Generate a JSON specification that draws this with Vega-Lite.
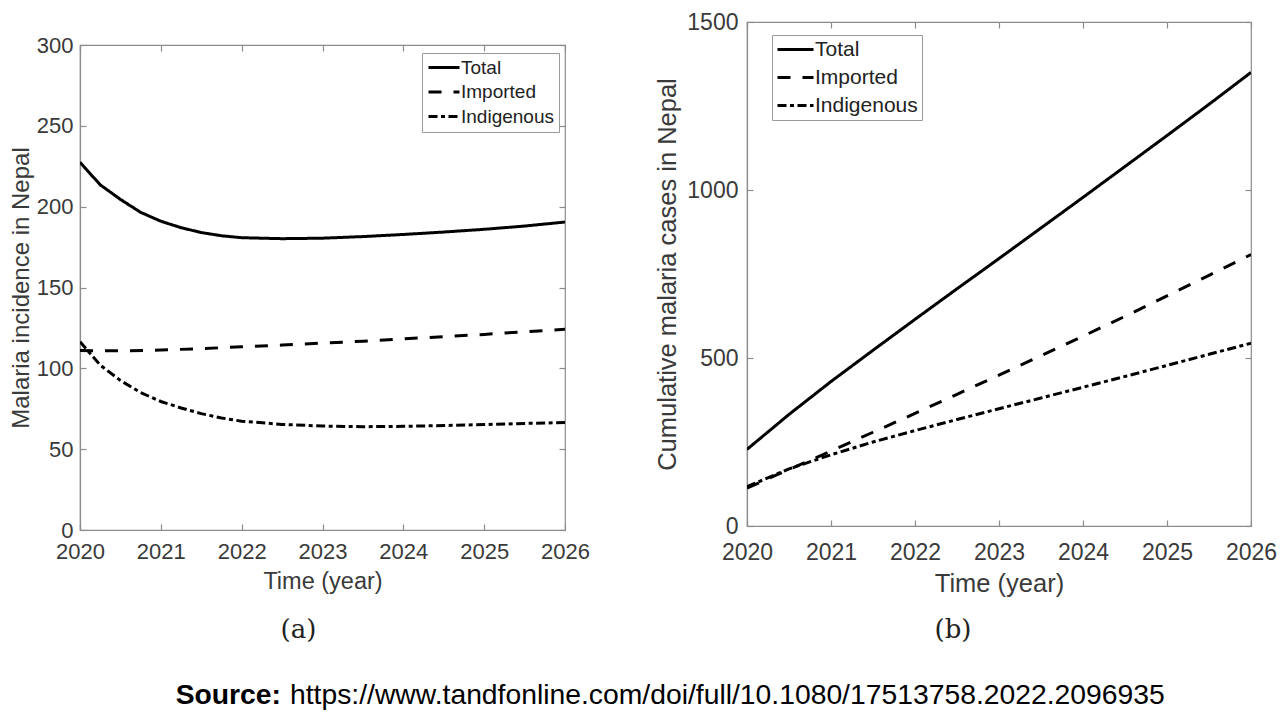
{
  "$schema": "https://vega.github.io/schema/vega-lite/v6.json",
  "background": "white",
  "padding": {"left": 8, "top": 10, "right": 0, "bottom": 0},
  "autosize": {"type": "pad"},
  "datasets": {
    "incidence": [
      {"series": "Total", "year": 2020, "value": 227.5},
      {"series": "Total", "year": 2020.25, "value": 213.5},
      {"series": "Total", "year": 2020.5, "value": 204.5},
      {"series": "Total", "year": 2020.75, "value": 196.5},
      {"series": "Total", "year": 2021, "value": 191},
      {"series": "Total", "year": 2021.25, "value": 187},
      {"series": "Total", "year": 2021.5, "value": 184},
      {"series": "Total", "year": 2021.75, "value": 182},
      {"series": "Total", "year": 2022, "value": 180.8},
      {"series": "Total", "year": 2022.5, "value": 180.2},
      {"series": "Total", "year": 2023, "value": 180.5},
      {"series": "Total", "year": 2023.5, "value": 181.5},
      {"series": "Total", "year": 2024, "value": 182.8},
      {"series": "Total", "year": 2024.5, "value": 184.3},
      {"series": "Total", "year": 2025, "value": 186},
      {"series": "Total", "year": 2025.5, "value": 188},
      {"series": "Total", "year": 2026, "value": 190.5},
      {"series": "Imported", "year": 2020, "value": 111},
      {"series": "Imported", "year": 2020.5, "value": 110.8},
      {"series": "Imported", "year": 2021, "value": 111.3},
      {"series": "Imported", "year": 2021.5, "value": 112.2},
      {"series": "Imported", "year": 2022, "value": 113.3},
      {"series": "Imported", "year": 2022.5, "value": 114.4},
      {"series": "Imported", "year": 2023, "value": 115.6},
      {"series": "Imported", "year": 2023.5, "value": 116.8},
      {"series": "Imported", "year": 2024, "value": 118.2},
      {"series": "Imported", "year": 2024.5, "value": 119.6},
      {"series": "Imported", "year": 2025, "value": 121},
      {"series": "Imported", "year": 2025.5, "value": 122.6},
      {"series": "Imported", "year": 2026, "value": 124.2},
      {"series": "Indigenous", "year": 2020, "value": 116.5},
      {"series": "Indigenous", "year": 2020.25, "value": 102},
      {"series": "Indigenous", "year": 2020.5, "value": 92.5},
      {"series": "Indigenous", "year": 2020.75, "value": 85},
      {"series": "Indigenous", "year": 2021, "value": 79.5},
      {"series": "Indigenous", "year": 2021.25, "value": 75.5},
      {"series": "Indigenous", "year": 2021.5, "value": 72},
      {"series": "Indigenous", "year": 2021.75, "value": 69.3},
      {"series": "Indigenous", "year": 2022, "value": 67.3},
      {"series": "Indigenous", "year": 2022.5, "value": 65.3},
      {"series": "Indigenous", "year": 2023, "value": 64.3},
      {"series": "Indigenous", "year": 2023.5, "value": 63.9},
      {"series": "Indigenous", "year": 2024, "value": 64.1},
      {"series": "Indigenous", "year": 2024.5, "value": 64.6},
      {"series": "Indigenous", "year": 2025, "value": 65.2},
      {"series": "Indigenous", "year": 2025.5, "value": 65.9},
      {"series": "Indigenous", "year": 2026, "value": 66.5}
    ],
    "cumulative": [
      {"series": "Total", "year": 2020, "value": 228},
      {"series": "Total", "year": 2020.5, "value": 332},
      {"series": "Total", "year": 2021, "value": 430},
      {"series": "Total", "year": 2021.5, "value": 523},
      {"series": "Total", "year": 2022, "value": 615},
      {"series": "Total", "year": 2022.5, "value": 706},
      {"series": "Total", "year": 2023, "value": 796},
      {"series": "Total", "year": 2023.5, "value": 887},
      {"series": "Total", "year": 2024, "value": 978},
      {"series": "Total", "year": 2024.5, "value": 1070},
      {"series": "Total", "year": 2025, "value": 1162},
      {"series": "Total", "year": 2025.5, "value": 1255},
      {"series": "Total", "year": 2026, "value": 1350},
      {"series": "Imported", "year": 2020, "value": 113},
      {"series": "Imported", "year": 2020.5, "value": 168},
      {"series": "Imported", "year": 2021, "value": 223},
      {"series": "Imported", "year": 2021.5, "value": 279},
      {"series": "Imported", "year": 2022, "value": 335},
      {"series": "Imported", "year": 2022.5, "value": 392},
      {"series": "Imported", "year": 2023, "value": 449},
      {"series": "Imported", "year": 2023.5, "value": 507},
      {"series": "Imported", "year": 2024, "value": 565},
      {"series": "Imported", "year": 2024.5, "value": 624},
      {"series": "Imported", "year": 2025, "value": 685},
      {"series": "Imported", "year": 2025.5, "value": 746},
      {"series": "Imported", "year": 2026, "value": 808},
      {"series": "Indigenous", "year": 2020, "value": 117},
      {"series": "Indigenous", "year": 2020.5, "value": 170},
      {"series": "Indigenous", "year": 2021, "value": 212},
      {"series": "Indigenous", "year": 2021.5, "value": 250},
      {"series": "Indigenous", "year": 2022, "value": 284},
      {"series": "Indigenous", "year": 2022.5, "value": 317},
      {"series": "Indigenous", "year": 2023, "value": 349},
      {"series": "Indigenous", "year": 2023.5, "value": 381},
      {"series": "Indigenous", "year": 2024, "value": 413},
      {"series": "Indigenous", "year": 2024.5, "value": 445},
      {"series": "Indigenous", "year": 2025, "value": 478},
      {"series": "Indigenous", "year": 2025.5, "value": 511},
      {"series": "Indigenous", "year": 2026, "value": 544}
    ]
  },
  "vconcat": [
    {
      "hconcat": [
        {
          "vconcat": [
            {
              "width": 1,
              "height": 1,
              "view": {"stroke": null},
              "data": {"values": [{}]},
              "mark": {"type": "text"},
              "encoding": {"text": {"value": ""}}
            },
            {
              "width": 485,
              "height": 485,
              "data": {"name": "incidence"},
              "title": {"text": "(a)", "orient": "bottom", "font": "DejaVu Serif", "fontSize": 26, "fontWeight": "normal", "color": "#222222", "offset": 24, "anchor": "middle", "dx": -24},
              "layer": [
                {
                  "mark": {"type": "line", "strokeWidth": 3, "color": "black", "clip": true},
                  "encoding": {
                    "x": {"field": "year", "type": "quantitative",
                      "scale": {"domain": [2020, 2026], "nice": false, "zero": false},
                      "axis": {"orient": "bottom", "title": "Time (year)", "values": [2020, 2021, 2022, 2023, 2024, 2025, 2026], "format": "d", "labelFontSize": 22, "titleFontSize": 23.5, "tickSize": -6, "labelPadding": 17, "titlePadding": 7, "labelFlush": false, "labelOverlap": false}},
                    "y": {"field": "value", "type": "quantitative",
                      "scale": {"domain": [0, 300], "nice": false},
                      "axis": {"title": "Malaria incidence in Nepal", "values": [0, 50, 100, 150, 200, 250, 300], "format": "d", "labelFontSize": 22, "titleFontSize": 24, "tickSize": -6, "labelPadding": 13, "titlePadding": 3, "labelOverlap": false, "labelFlush": false}},
                    "strokeDash": {"field": "series", "type": "nominal",
                      "scale": {"domain": ["Total", "Imported", "Indigenous"], "range": [[1, 0], [13, 12], [9, 3.5, 4, 3.5]]},
                      "legend": {"orient": "none", "legendX": 342, "legendY": 8, "title": null, "labelFontSize": 19, "symbolType": "M-1,0H2.875", "symbolSize": 256, "symbolStrokeWidth": 3, "symbolStrokeColor": "black", "fillColor": "white", "strokeColor": "#9a9a9a", "padding": 5, "rowPadding": 4.5, "labelOffset": 15, "labelColor": "#222222"}}
                  }
                },
                {
                  "mark": {"type": "point", "opacity": 0},
                  "encoding": {
                    "x": {"field": "year", "type": "quantitative",
                      "axis": {"orient": "top", "title": null, "labels": false, "domain": false, "tickSize": -6, "values": [2020, 2021, 2022, 2023, 2024, 2025, 2026]}},
                    "y": {"field": "value", "type": "quantitative",
                      "axis": {"orient": "right", "title": null, "labels": false, "domain": false, "tickSize": -6, "values": [0, 50, 100, 150, 200, 250, 300]}}
                  }
                }
              ],
              "resolve": {"axis": {"x": "independent", "y": "independent"}}
            }
          ],
          "spacing": 5,
          "resolve": {"scale": {"strokeDash": "independent"}, "legend": {"strokeDash": "independent"}}
        },
        {
          "width": 504,
          "height": 504,
          "data": {"name": "cumulative"},
          "title": {"text": "(b)", "orient": "bottom", "font": "DejaVu Serif", "fontSize": 26, "fontWeight": "normal", "color": "#222222", "offset": 20, "anchor": "middle", "dx": -46},
          "layer": [
            {
              "mark": {"type": "line", "strokeWidth": 3, "color": "black", "clip": true},
              "encoding": {
                "x": {"field": "year", "type": "quantitative",
                  "scale": {"domain": [2020, 2026], "nice": false, "zero": false},
                  "axis": {"orient": "bottom", "title": "Time (year)", "values": [2020, 2021, 2022, 2023, 2024, 2025, 2026], "format": "d", "labelFontSize": 23, "titleFontSize": 25.5, "tickSize": -6, "labelPadding": 21, "titlePadding": 7, "labelFlush": false, "labelOverlap": false}},
                "y": {"field": "value", "type": "quantitative",
                  "scale": {"domain": [0, 1500], "nice": false},
                  "axis": {"title": "Cumulative malaria cases in Nepal", "values": [0, 500, 1000, 1500], "format": "d", "labelFontSize": 23, "titleFontSize": 25.5, "tickSize": -6, "labelPadding": 15, "titlePadding": 6, "labelOverlap": false, "labelFlush": false}},
                "strokeDash": {"field": "series", "type": "nominal",
                  "scale": {"domain": ["Total", "Imported", "Indigenous"], "range": [[1, 0], [13, 12], [9, 3.5, 4, 3.5]]},
                  "legend": {"orient": "none", "legendX": 25, "legendY": 13, "title": null, "labelFontSize": 21, "symbolType": "M-1,0H3", "symbolSize": 324, "symbolStrokeWidth": 3, "symbolStrokeColor": "black", "fillColor": "white", "strokeColor": "#9a9a9a", "padding": 4, "rowPadding": 6, "labelOffset": 18, "labelColor": "#222222"}}
              }
            },
            {
              "mark": {"type": "point", "opacity": 0},
              "encoding": {
                "x": {"field": "year", "type": "quantitative",
                  "axis": {"orient": "top", "title": null, "labels": false, "domain": false, "tickSize": -6, "values": [2020, 2021, 2022, 2023, 2024, 2025, 2026]}},
                "y": {"field": "value", "type": "quantitative",
                  "axis": {"orient": "right", "title": null, "labels": false, "domain": false, "tickSize": -6, "values": [0, 500, 1000, 1500]}}
              }
            }
          ],
          "resolve": {"axis": {"x": "independent", "y": "independent"}}
        }
      ],
      "spacing": 64,
      "resolve": {"scale": {"strokeDash": "independent"}, "legend": {"strokeDash": "independent"}}
    },
    {
      "width": 410,
      "height": 30,
      "view": {"stroke": null},
      "data": {"values": [{"source": "Source:", "url": "https://www.tandfonline.com/doi/full/10.1080/17513758.2022.2096935"}]},
      "layer": [
        {"mark": {"type": "text", "align": "right", "baseline": "middle", "fontWeight": "bold", "fontSize": 28.3, "font": "Liberation Sans", "color": "black", "dx": -4},
         "encoding": {"text": {"field": "source"}}},
        {"mark": {"type": "text", "align": "left", "baseline": "middle", "fontSize": 28.3, "font": "Liberation Sans", "color": "black", "dx": 5},
         "encoding": {"text": {"field": "url"}}}
      ]
    }
  ],
  "spacing": 37,
  "config": {
    "font": "Liberation Sans",
    "view": {"stroke": "#8c8c8c", "strokeWidth": 1.2},
    "axis": {"domainColor": "#8c8c8c", "tickColor": "#8c8c8c", "labelColor": "#3a3a3a", "titleColor": "#3a3a3a", "grid": false, "titleFontWeight": "normal", "labelFont": "Liberation Sans", "titleFont": "Liberation Sans", "domainWidth": 1.2, "tickWidth": 1.2},
    "legend": {"labelFont": "Liberation Sans"}
  }
}
